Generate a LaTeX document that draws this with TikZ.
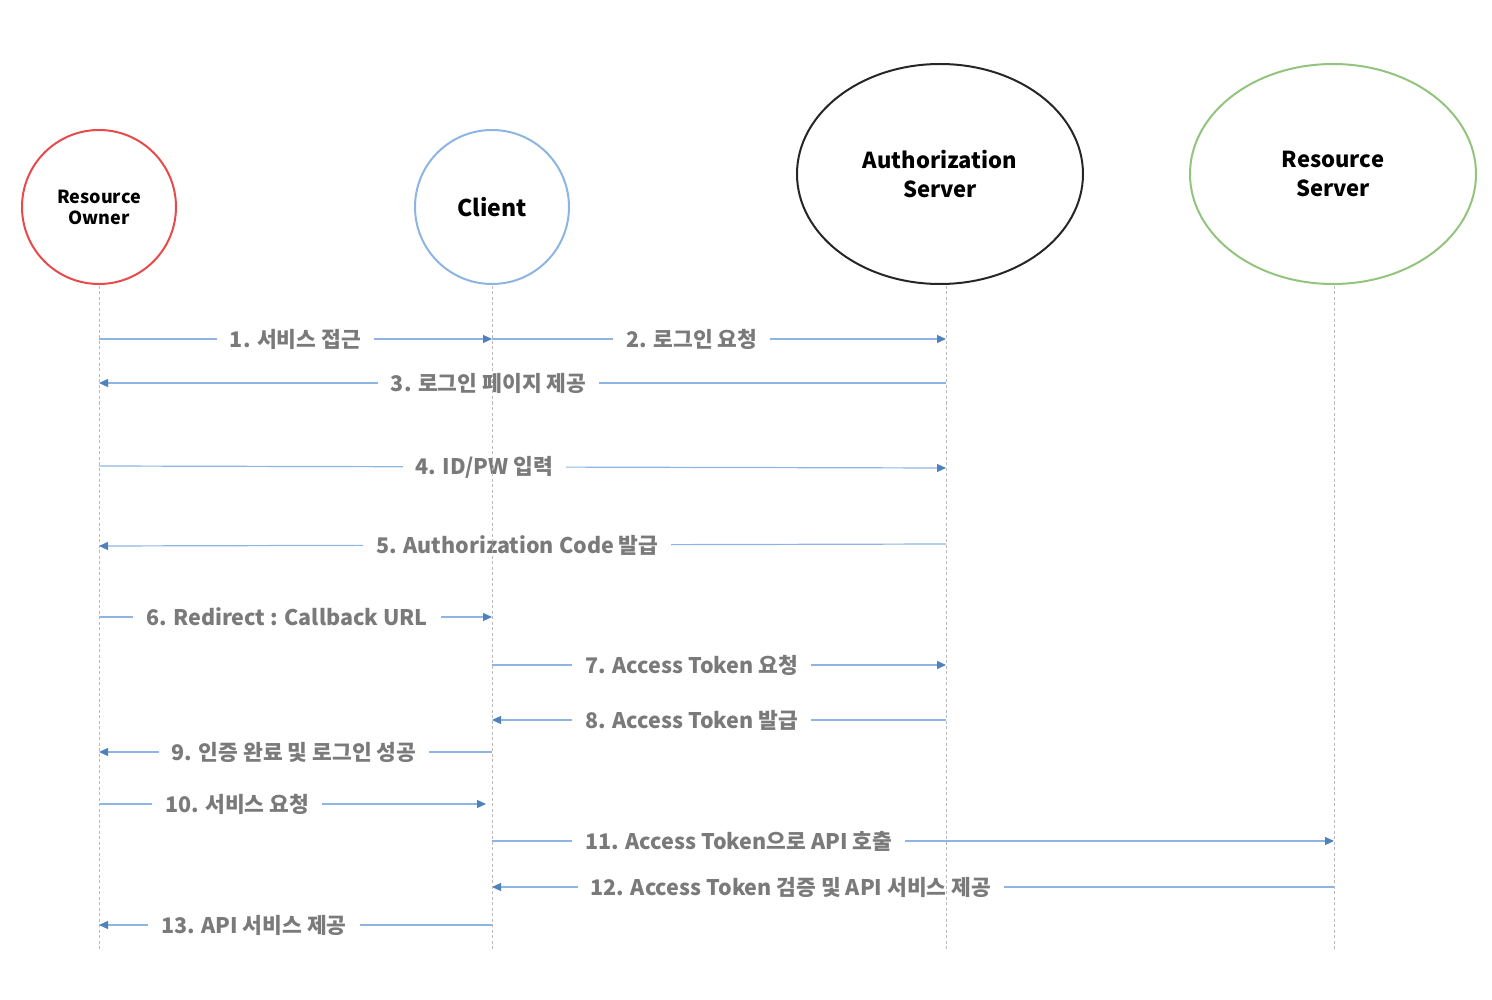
\documentclass[tikz,border=0pt]{standalone}
\usepackage{fontspec}
\setmainfont{Noto Sans CJK KR}
\usetikzlibrary{shapes.geometric,arrows.meta}
\definecolor{roRed}{HTML}{E84A4A}
\definecolor{clBlue}{HTML}{8DB4E2}
\definecolor{rsGreen}{HTML}{93C47D}
\definecolor{msgBlue}{HTML}{8DB4E2}
\definecolor{tipBlue}{HTML}{4F81BD}
\definecolor{lblGray}{HTML}{7A7A7A}
\tikzset{
  actor/.style={ellipse,line width=2pt,inner sep=0pt,align=center,font=\bfseries},
  lifeline/.style={draw=gray!55,line width=0.9pt,dash pattern=on 3pt off 2.5pt},
  msg/.style={draw=msgBlue,line width=1.2pt,-{Triangle[length=9pt,width=8pt,color=tipBlue]}},
  lbl/.style={fill=white,text=lblGray,font=\fontsize{21.5}{24}\selectfont\bfseries,inner xsep=13pt,inner ysep=2pt}
}
\begin{document}
\begin{tikzpicture}[x=1pt,y=-1pt]
\useasboundingbox (0,0) rectangle (1492,1000);
% participants
\node[actor,draw=roRed,minimum width=154pt,minimum height=154pt,font=\fontsize{18}{21}\selectfont\bfseries] (ro) at (99,207) {Resource\\Owner};
\node[actor,draw=clBlue,minimum width=154pt,minimum height=154pt,font=\fontsize{23}{26}\selectfont\bfseries] (cl) at (492,207) {Client};
\node[actor,draw=black!85,minimum width=286pt,minimum height=220pt,font=\fontsize{22}{29}\selectfont\bfseries] (as) at (940,174) {Authorization\\Server};
\node[actor,draw=rsGreen,minimum width=286pt,minimum height=220pt,font=\fontsize{22}{29}\selectfont\bfseries] (rs) at (1333,174) {Resource\\Server};
% lifeline coordinates
\coordinate (roT) at (99,286);  \coordinate (roB) at (99,950);
\coordinate (clT) at (492,286); \coordinate (clB) at (492,950);
\coordinate (asT) at (946,286); \coordinate (asB) at (946,950);
\coordinate (rsT) at (1334,286);\coordinate (rsB) at (1334,950);
% messages
\draw[msg] (roT |- 0,339) -- node[lbl,pos=0.5]{1. 서비스 접근} (clT |- 0,339);
\draw[msg] (clT |- 0,339) -- node[lbl,pos=0.44]{2. 로그인 요청} (asT |- 0,339);
\draw[msg] (asT |- 0,383) -- node[lbl,pos=0.54]{3. 로그인 페이지 제공} (roT |- 0,383);
\draw[msg] (roT |- 0,466) -- node[lbl,pos=0.455]{4. ID/PW 입력} (asT |- 0,468);
\draw[msg] (asT |- 0,544) -- node[lbl,pos=0.506]{5. Authorization Code 발급} (roT |- 0,546);
\draw[msg] (roT |- 0,617) -- node[lbl,pos=0.478]{6. Redirect : Callback URL} (clT |- 0,617);
\draw[msg] (clT |- 0,665) -- node[lbl,pos=0.44]{7. Access Token 요청} (asT |- 0,665);
\draw[msg] (asT |- 0,720) -- node[lbl,pos=0.56]{8. Access Token 발급} (clT |- 0,720);
\draw[msg] (clT |- 0,752) -- node[lbl,pos=0.504]{9. 인증 완료 및 로그인 성공} (roT |- 0,752);
\coordinate (m10e) at (486,804);
\draw[msg] (roT |- 0,804) -- node[lbl,pos=0.357]{10. 서비스 요청} (m10e);
\draw[msg] (clT |- 0,841) -- node[lbl,pos=0.293]{11. Access Token으로 API 호출} (rsT |- 0,841);
\draw[msg] (rsT |- 0,887) -- node[lbl,pos=0.645]{12. Access Token 검증 및 API 서비스 제공} (clT |- 0,887);
\draw[msg] (clT |- 0,925) -- node[lbl,pos=0.606]{13. API 서비스 제공} (roT |- 0,925);
% lifelines on top
\draw[lifeline] (roT) -- (roB);
\draw[lifeline] (clT) -- (clB);
\draw[lifeline] (asT) -- (asB);
\draw[lifeline] (rsT) -- (rsB);
\end{tikzpicture}
\end{document}
